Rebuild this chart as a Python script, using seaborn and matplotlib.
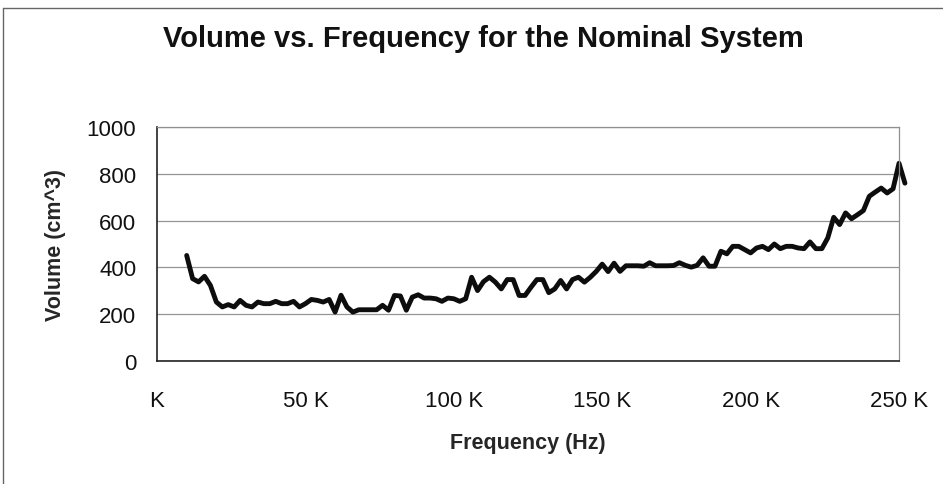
import matplotlib
matplotlib.use("Agg")
import matplotlib.pyplot as plt
from matplotlib.lines import Line2D
import numpy as np
import pandas as pd
import seaborn as sns

# Sweep frequencies (kHz) and measured volume (cm^3)
freq_khz = list(range(10, 253, 2))
volume_cm3 = [
    451, 352, 338, 362, 323, 252, 231, 241, 231, 259,
    238, 231, 252, 245, 245, 255, 245, 245, 255, 231,
    245, 263, 259, 252, 263, 209, 281, 231, 209, 219,
    219, 219, 219, 238, 217, 280, 278, 217, 273, 283,
    269, 269, 266, 255, 269, 266, 255, 266, 358, 301,
    339, 358, 337, 308, 348, 348, 280, 280, 315, 348,
    348, 292, 308, 344, 308, 348, 358, 337, 358, 383,
    414, 382, 418, 383, 407, 407, 407, 405, 420, 407,
    407, 407, 408, 420, 409, 401, 409, 441, 405, 405,
    469, 458, 490, 490, 476, 462, 483, 490, 476, 500,
    480, 490, 490, 483, 480, 509, 480, 480, 526, 614,
    583, 633, 608, 625, 643, 704, 722, 739, 718, 736,
    845, 760,
]

x_ticks_hz = [0, 50000, 100000, 150000, 200000, 250000]
x_tick_labels = ["K", "50 K", "100 K", "150 K", "200 K", "250 K"]
y_ticks = [0, 200, 400, 600, 800, 1000]

title = "Volume vs. Frequency for the Nominal System"
x_label = "Frequency (Hz)"
y_label = "Volume (cm^3)"

df = pd.DataFrame({
    "Frequency": [f * 1000 for f in freq_khz],
    "Volume": volume_cm3,
})

sns.set_style("white")
plt.rcParams["font.family"] = ["Liberation Sans", "DejaVu Sans"]

W, H = 943, 485
fig = plt.figure(figsize=(W / 100, H / 100), dpi=100)
ax = fig.add_axes([157 / W, 1 - 362 / H, (899 - 157) / W, (362 - 128) / H])

sns.lineplot(data=df, x="Frequency", y="Volume", ax=ax,
             color="#0d0d0d", linewidth=3.5, clip_on=False)

ax.set_xlim(0, 250000)
ax.set_ylim(0, 1000)
ax.set_xticks(x_ticks_hz)
ax.set_xticklabels(x_tick_labels)
ax.set_yticks(y_ticks)

ax.grid(axis="y", color="#959595", linewidth=0.9)
ax.grid(axis="x", visible=False)
ax.set_axisbelow(True)

for side in ("top", "right"):
    ax.spines[side].set_color("#909090")
    ax.spines[side].set_linewidth(0.9)
for side in ("left", "bottom"):
    ax.spines[side].set_color("#222222")
    ax.spines[side].set_linewidth(1.2)

ax.tick_params(axis="both", direction="out", length=5, width=1,
               color="#222222", labelsize=16, labelcolor="#111111")
ax.tick_params(axis="x", pad=16)
ax.tick_params(axis="y", pad=10)

ax.set_xlabel(x_label, fontsize=15.5, fontweight="bold", labelpad=15)
ax.set_ylabel(y_label, fontsize=15.5, fontweight="bold", labelpad=15)

fig.text(483 / W, 1 - 39 / H, title, ha="center", va="center",
         fontsize=21, fontweight="bold", color="#111111")

# Chart-area frame (top and left edges)
fig.add_artist(Line2D([3 / W, 1.0], [1 - 9 / H, 1 - 9 / H],
                      transform=fig.transFigure, color="#666666", linewidth=1))
fig.add_artist(Line2D([3 / W, 3 / W], [0, 1 - 9 / H],
                      transform=fig.transFigure, color="#666666", linewidth=1))

fig.savefig("out.png", dpi=100)
